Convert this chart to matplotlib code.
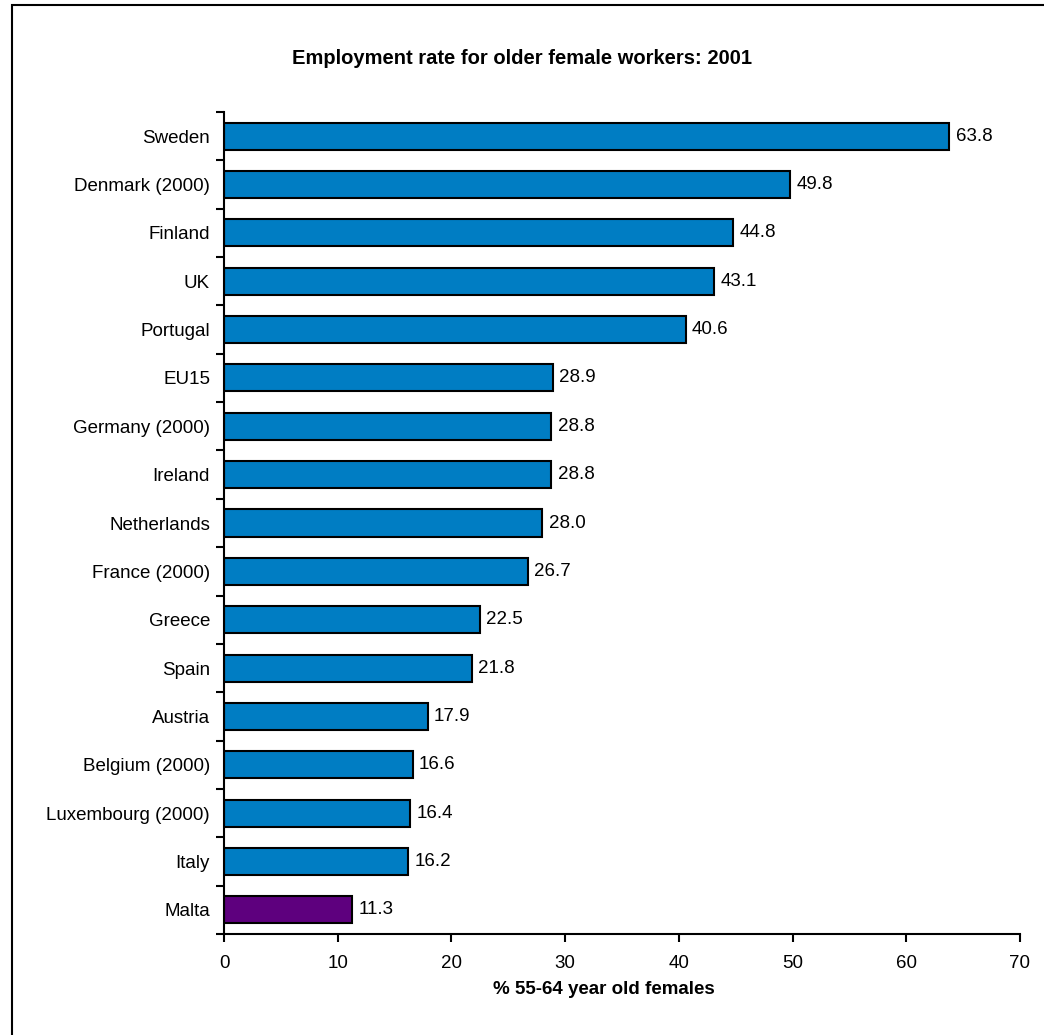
import matplotlib.pyplot as plt
from matplotlib.patches import Rectangle

plt.rcParams['font.family'] = ['Liberation Sans', 'DejaVu Sans']

countries = ['Sweden', 'Denmark (2000)', 'Finland', 'UK', 'Portugal', 'EU15',
             'Germany (2000)', 'Ireland', 'Netherlands', 'France (2000)', 'Greece',
             'Spain', 'Austria', 'Belgium (2000)', 'Luxembourg (2000)', 'Italy', 'Malta']
rates = [63.8, 49.8, 44.8, 43.1, 40.6, 28.9, 28.8, 28.8, 28.0, 26.7, 22.5,
         21.8, 17.9, 16.6, 16.4, 16.2, 11.3]
highlight = 'Malta'

fig = plt.figure(figsize=(10.44, 10.35), dpi=100)
ax = fig.add_axes([224 / 1044, 1 - 934 / 1035, 796 / 1044, 822 / 1035])

# frame around the chart (right/bottom edge fall outside the image)
fig.patches.append(Rectangle((12 / 1044, -0.1), 1.2, 1.1 - 5 / 1035, transform=fig.transFigure,
                             fill=False, edgecolor='black', linewidth=1.5))

pos = list(range(len(countries)))
colors = ['#5E007E' if c == highlight else '#007DC3' for c in countries]
ax.barh(pos, rates, height=0.56, color=colors, edgecolor='black', linewidth=1.5)

for y, v in zip(pos, rates):
    ax.text(v + 0.55, y, f'{v:.1f}', va='center', ha='left', fontsize=13.5)

ax.set_ylim(len(countries) - 0.5, -0.5)
ax.set_xlim(0, 70)
ax.set_xticks(range(0, 71, 10))
ax.set_yticks(pos)
ax.set_yticklabels(countries)
ax.set_yticks([p - 0.5 for p in pos] + [len(pos) - 0.5], minor=True)
ax.tick_params(axis='y', which='major', length=0, pad=10, labelsize=13.5)
ax.tick_params(axis='y', which='minor', length=6, width=1.5, direction='out')
ax.tick_params(axis='x', length=6, width=1.5, direction='out', labelsize=13.5, pad=9)

for s in ['top', 'right']:
    ax.spines[s].set_visible(False)
for s in ['left', 'bottom']:
    ax.spines[s].set_linewidth(1.5)

fig.text(522 / 1044, 1 - 58 / 1035, 'Employment rate for older female workers: 2001',
         ha='center', va='center', fontsize=14.5, fontweight='bold')
fig.text(604 / 1044, 1 - 990 / 1035, '% 55-64 year old females',
         ha='center', va='center', fontsize=13.5, fontweight='bold')

fig.savefig('out.png', dpi=100)
